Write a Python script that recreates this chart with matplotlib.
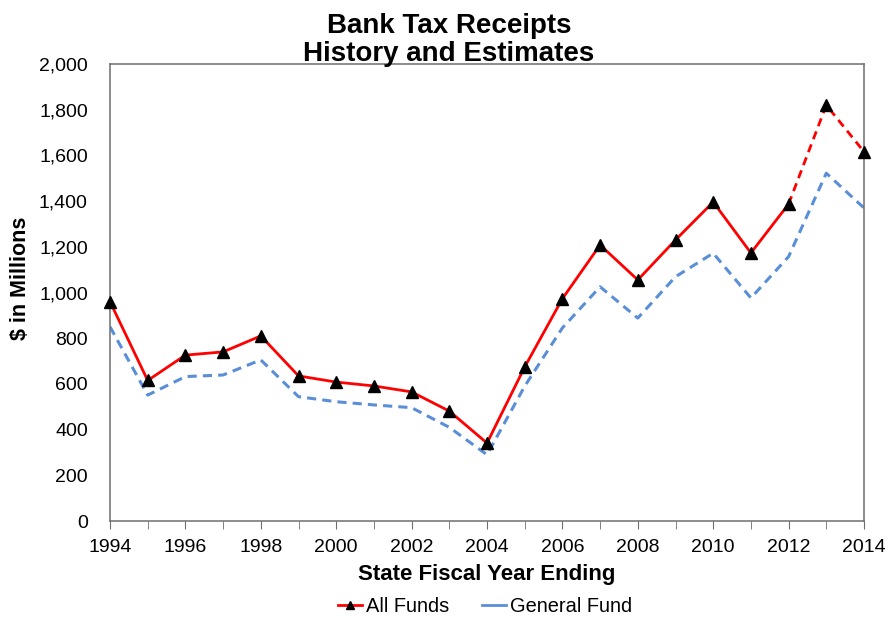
import matplotlib
matplotlib.use("Agg")
import matplotlib.pyplot as plt
from matplotlib.lines import Line2D
from matplotlib.ticker import FuncFormatter, MultipleLocator

plt.rcParams['font.family'] = ['Liberation Sans', 'DejaVu Sans']

years = list(range(1994, 2015))
all_funds = [960, 615, 726, 740, 810, 635, 608, 591, 565, 481, 341,
             674, 973, 1208, 1055, 1230, 1396, 1173, 1387, 1820, 1616]
general_fund = [850, 551, 632, 639, 705, 544, 522, 508, 496, 410, 290,
                590, 845, 1025, 888, 1069, 1172, 976, 1157, 1522, 1370]
# Years from this point on are estimates (drawn dashed)
estimate_start = 2012

red = '#FF0000'
blue = '#5A8FD8'
frame = '#6E6E6E'

fig = plt.figure(figsize=(8.89, 6.17), dpi=100)
ax = fig.add_axes([110/889, 1 - 521/617, (864 - 110)/889, (521 - 64)/617])

k = years.index(estimate_start)
ax.plot(years, general_fund, color=blue, lw=2.2, ls=(0, (3, 2)), zorder=2)
ax.plot(years[:k + 1], all_funds[:k + 1], color=red, lw=2.0, zorder=3)
ax.plot(years[k:], all_funds[k:], color=red, lw=2.0, ls=(0, (3, 2)), zorder=3)
ax.plot(years, all_funds, ls='none', marker='^', ms=8, color='black',
        zorder=4, clip_on=False)

ax.set_xlim(1994, 2014)
ax.set_ylim(0, 2000)
ax.xaxis.set_major_locator(MultipleLocator(2))
ax.xaxis.set_minor_locator(MultipleLocator(1))
ax.yaxis.set_major_locator(MultipleLocator(200))
ax.yaxis.set_major_formatter(FuncFormatter(lambda v, p: f'{int(v):,}'))

ax.tick_params(axis='x', which='both', direction='out', length=6,
               color=frame, labelsize=14, pad=7)
ax.tick_params(axis='y', length=0, labelsize=14, pad=16)
for s in ax.spines.values():
    s.set_color(frame)
    s.set_linewidth(1.1)

ax.set_xlabel('State Fiscal Year Ending', fontsize=16, fontweight='bold',
              labelpad=6)
ax.set_ylabel('$ in Millions', fontsize=15.5, fontweight='bold',
              va='center')
ax.yaxis.set_label_coords((21 - 110) / 754, (521 - 278) / 457)

fig.text(449/889, 1 - 33/617, 'Bank Tax Receipts',
         ha='center', va='baseline', fontsize=20, fontweight='bold')
fig.text(449/889, 1 - 61/617, 'History and Estimates',
         ha='center', va='baseline', fontsize=20, fontweight='bold')

handles = [Line2D([], [], color=red, lw=2.0, marker='^', ms=6,
                  markerfacecolor='black', markeredgecolor='black'),
           Line2D([], [], color=blue, lw=2.0)]
fig.legend(handles, ['All Funds', 'General Fund'], loc='center',
           bbox_to_anchor=(485/889, 1 - 606/617), ncol=2, frameon=False,
           fontsize=14.4, handlelength=1.2, handletextpad=0.2,
           columnspacing=1.6, borderpad=0)

fig.savefig('out.png', dpi=100)
